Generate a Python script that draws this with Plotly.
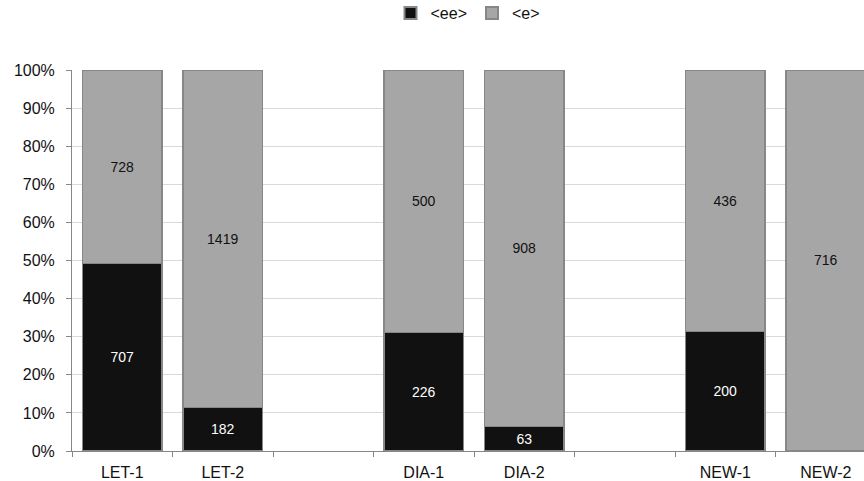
import plotly.graph_objects as go

categories = ["LET-1", "LET-2", "DIA-1", "DIA-2", "NEW-1", "NEW-2"]
axis_order = ["LET-1", "LET-2", " ", "DIA-1", "DIA-2", "  ", "NEW-1", "NEW-2"]
ee_values = [707, 182, 226, 63, 200, 1]
e_values = [728, 1419, 500, 908, 436, 716]
y_ticks = [0, 10, 20, 30, 40, 50, 60, 70, 80, 90, 100]
y_tick_labels = ["0%", "10%", "20%", "30%", "40%", "50%", "60%", "70%", "80%", "90%", "100%"]

FONT = "Liberation Sans, Arial, sans-serif"
fig = go.Figure()
fig.add_trace(go.Bar(
    name="<ee>", x=categories, y=ee_values, text=ee_values,
    texttemplate="%{text}", textposition="inside", insidetextanchor="middle",
    constraintext="none",
    textfont=dict(color="white", size=14, family=FONT),
    marker=dict(color="#111111", line=dict(color="#878787", width=1.3)),
    width=0.79, hoverinfo="skip",
))
fig.add_trace(go.Bar(
    name="<e>", x=categories, y=e_values, text=e_values,
    texttemplate="%{text}", textposition="inside", insidetextanchor="middle",
    constraintext="none",
    textfont=dict(color="#111111", size=14, family=FONT),
    marker=dict(color="#a6a6a6", line=dict(color="#878787", width=1.3)),
    width=0.79, hoverinfo="skip",
))

fig.update_layout(
    barmode="stack", barnorm="percent",
    width=864, height=481,
    margin=dict(l=72, r=0, t=70, b=30),
    paper_bgcolor="white", plot_bgcolor="white",
    font=dict(family=FONT, size=16, color="#111111"),
    legend=dict(orientation="h", x=0.5, xanchor="center", y=0.973, yanchor="middle",
                yref="container", font=dict(size=16), traceorder="normal",
                itemwidth=30, itemsizing="constant"),
    showlegend=True,
)
fig.update_xaxes(
    type="category", categoryorder="array", categoryarray=axis_order,
    range=[-0.5, 7.38], tickson="boundaries", ticks="outside", ticklen=5,
    tickcolor="#878787", showline=True, linecolor="#878787", linewidth=1,
    showgrid=False, tickfont=dict(size=16, family=FONT), fixedrange=True,
    ticklabelstandoff=7,
)
fig.update_yaxes(
    range=[0, 100], tickmode="array", tickvals=y_ticks, ticktext=y_tick_labels,
    ticks="outside", ticklen=5,
    tickcolor="#878787", showline=True, linecolor="#878787", linewidth=1,
    showgrid=True, gridcolor="#d9d9d9", gridwidth=1, zeroline=False,
    tickfont=dict(size=16, family=FONT), ticklabelstandoff=8,
)

fig.write_html("out.html", config={"displayModeBar": False},
               post_script="document.body.style.margin='0px';document.body.style.padding='0px';")
